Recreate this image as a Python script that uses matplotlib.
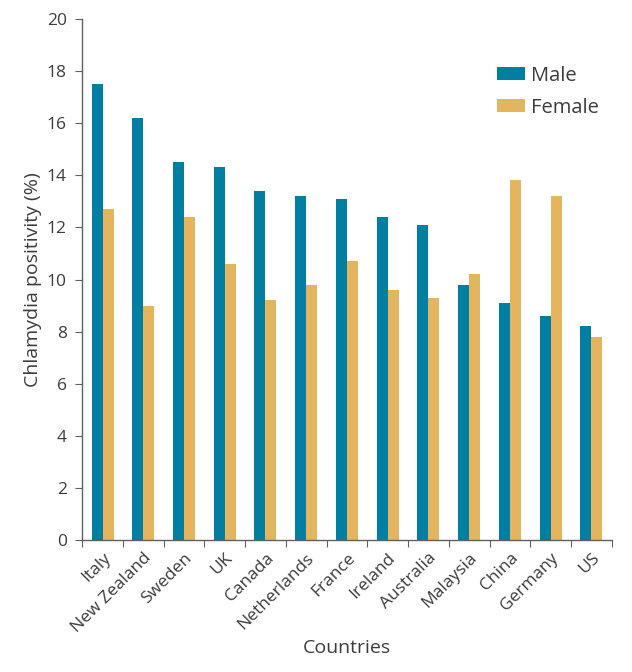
import numpy as np
import matplotlib.pyplot as plt

plt.rcParams['font.family'] = ['Open Sans', 'DejaVu Sans']

countries = ['Italy', 'New Zealand', 'Sweden', 'UK', 'Canada', 'Netherlands',
             'France', 'Ireland', 'Australia', 'Malaysia', 'China', 'Germany', 'US']
male = [17.5, 16.2, 14.5, 14.3, 13.4, 13.2, 13.1, 12.4, 12.1, 9.8, 9.1, 8.6, 8.2]
female = [12.7, 9.0, 12.4, 10.6, 9.2, 9.8, 10.7, 9.6, 9.3, 10.2, 13.8, 13.2, 7.8]

male_col = '#007fa3'
female_col = '#e5b45e'
text_col = '#3c3c3c'
axis_col = '#606060'

fig = plt.figure(figsize=(6.32, 6.72), dpi=100)
ax = fig.add_axes([0.13, 0.196, 0.838, 0.776])

x = np.arange(len(countries))
w = 0.27
ax.bar(x - w/2, male, w, color=male_col, label='Male')
ax.bar(x + w/2, female, w, color=female_col, label='Female')

ax.set_xlim(-0.5, len(countries) - 0.5)
ax.set_ylim(0, 20)
ax.set_yticks(np.arange(0, 21, 2))
# ticks sit between the groups, names go on minor ticks at the centres
ax.set_xticks(np.arange(-0.5, len(countries)), minor=False)
ax.set_xticklabels([])
ax.set_xticks(x, minor=True)
ax.set_xticklabels(countries, minor=True, rotation=45, ha='right',
                   rotation_mode='anchor', fontsize=12.5, color=text_col)
ax.tick_params(axis='x', which='minor', length=0, pad=7)
ax.tick_params(axis='x', which='major', length=5, color=axis_col, direction='out')
ax.tick_params(axis='y', length=5, color=axis_col, labelsize=12.5,
               labelcolor=text_col, pad=6)

for s in ['top', 'right']:
    ax.spines[s].set_visible(False)
for s in ['left', 'bottom']:
    ax.spines[s].set_color(axis_col)
    ax.spines[s].set_linewidth(1.0)

ax.set_ylabel('Chlamydia positivity (%)', fontsize=14, color=text_col)
ax.yaxis.set_label_coords(-0.075, 0.5)
ax.set_xlabel('Countries', fontsize=14, color=text_col)
ax.xaxis.set_label_coords(0.5, -0.19)

leg = ax.legend(loc='upper right', bbox_to_anchor=(1.01, 0.945), frameon=False,
                fontsize=14.5, handlelength=1.4, handleheight=0.6,
                handletextpad=0.3, labelspacing=0.6, labelcolor=text_col)

fig.savefig('out.png', dpi=100)
